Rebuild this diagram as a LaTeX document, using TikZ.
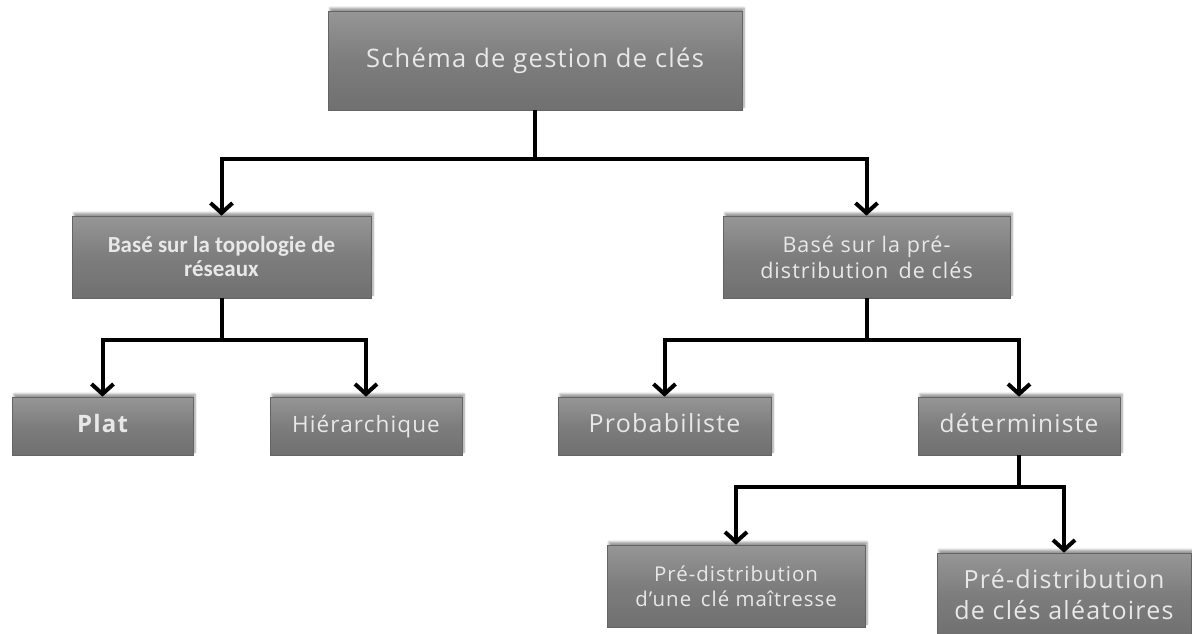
\documentclass[tikz,border=0pt]{standalone}
\usepackage{fontspec}
\setmainfont{Open Sans}[LetterSpace=5]
\newfontfamily\carl{Carlito}
\usetikzlibrary{arrows.meta,shadows.blur}
\definecolor{boxtop}{RGB}{150,150,150}
\definecolor{boxmid}{RGB}{125,125,125}
\definecolor{boxbot}{RGB}{112,112,112}
\definecolor{boxtext}{RGB}{232,232,232}
\tikzset{
  box/.style={draw=boxmid!80!black, line width=0.6pt, top color=boxtop, bottom color=boxbot,
    middle color=boxmid, text=boxtext, align=center, inner sep=0pt,
    blur shadow={shadow xshift=2pt, shadow yshift=3pt, shadow blur steps=6, shadow opacity=40}},
  oneline/.style={text height=18pt, text depth=5pt},
  link/.style={line width=4pt, black},
  arrowlink/.style={link, -{Straight Barb[length=10pt,width=22pt,line width=4pt]}},
}
\begin{document}
\begin{tikzpicture}[x=1pt,y=-1pt]
\useasboundingbox (0,0) rectangle (1192,633);

% boxes
\node[box, oneline, minimum width=414pt, minimum height=99pt, font=\fontsize{25.5}{30}\selectfont]
  (root) at (535,60.5) {Schéma de gestion de clés};
\node[box, minimum width=299pt, minimum height=82pt, font=\carl\bfseries\fontsize{23}{24}\selectfont]
  (topo) at (221.5,257) {Basé sur la topologie de\\réseaux};
\node[box, minimum width=287pt, minimum height=82pt, font=\fontsize{21.5}{26}\selectfont]
  (predist) at (866.5,257) {Basé sur la pré-\\distribution\, de clés};
\node[box, oneline, minimum width=181pt, minimum height=58pt, font=\bfseries\fontsize{24}{28}\selectfont]
  (plat) at (102.5,426) {Plat};
\node[box, oneline, minimum width=192pt, minimum height=58pt, font=\fontsize{22.5}{26}\selectfont]
  (hier) at (366,426) {Hiérarchique};
\node[box, oneline, minimum width=213pt, minimum height=58pt, font=\fontsize{25}{28}\selectfont]
  (proba) at (664.5,426) {Probabiliste};
\node[box, oneline, minimum width=202pt, minimum height=58pt, font=\fontsize{24.5}{28}\selectfont]
  (determ) at (1019,426) {déterministe};
\node[box, minimum width=258pt, minimum height=82pt, font=\fontsize{20.4}{25}\selectfont]
  (master) at (736,586) {Pré-distribution\\d’une\, clé maîtresse};
\node[box, minimum width=254pt, minimum height=84pt, font=\fontsize{25}{31}\selectfont]
  (random) at (1064,595) {Pré-distribution\\de clés aléatoires};

% branching points
\coordinate (j1) at (535,159);
\coordinate (j2) at (221.5,340);
\coordinate (j3) at (866.5,340);
\coordinate (j4) at (1019,487);

% connectors
\draw[link] (root.south) -- (j1);
\draw[arrowlink] (j1) -| (topo.north);
\draw[arrowlink] (j1) -| (predist.north);

\draw[link] (topo.south) -- (j2);
\draw[arrowlink] (j2) -| (plat.north);
\draw[arrowlink] (j2) -| (hier.north);

\draw[link] (predist.south) -- (j3);
\draw[arrowlink] (j3) -| (proba.north);
\draw[arrowlink] (j3) -| (determ.north);

\draw[link] (determ.south) -- (j4);
\draw[arrowlink] (j4) -| (master.north);
\draw[arrowlink] (j4) -| (random.north);
\end{tikzpicture}
\end{document}
